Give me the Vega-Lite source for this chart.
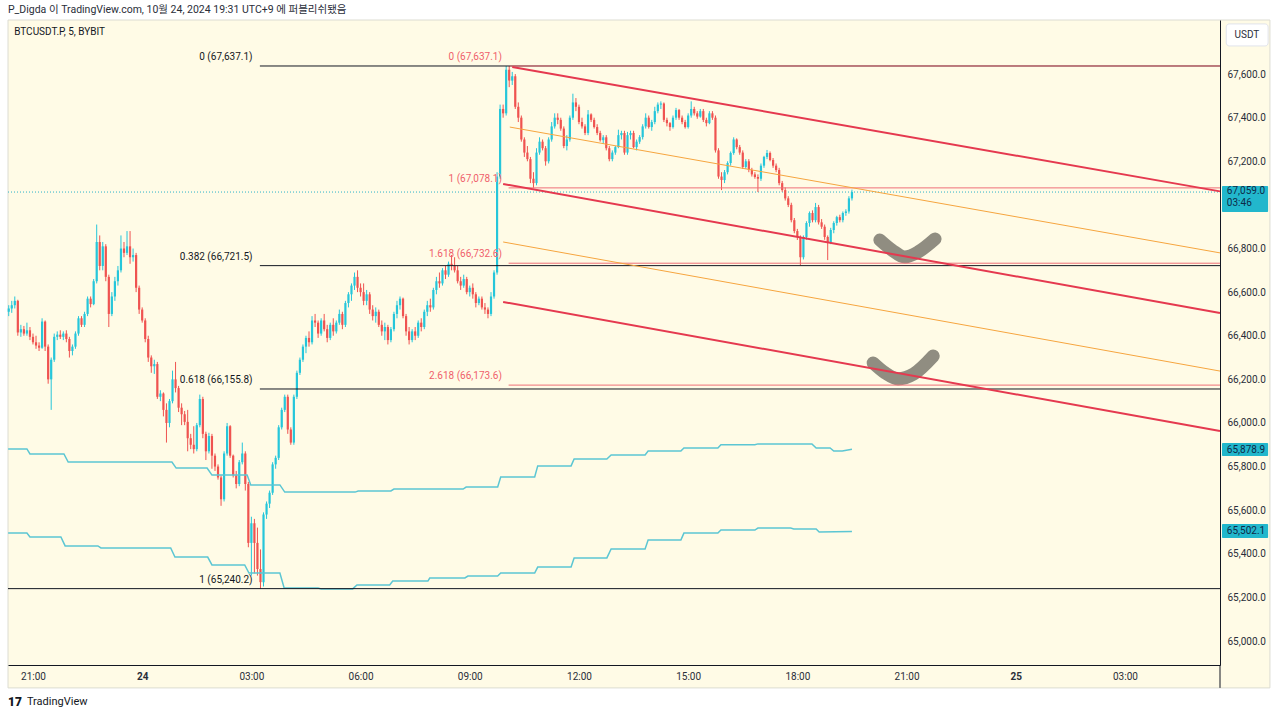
{
"$schema":"https://vega.github.io/schema/vega-lite/v6.json",
"width":1212,"height":645,
"autosize":{"type":"none"},
"padding":{"left":8,"top":20,"right":60,"bottom":51},
"background":"#ffffff",
"config":{"view":{"stroke":null},"font":"Roboto","text":{"font":"Roboto","fontSize":10}},
"title":{"text":"P_Digda 이 TradingView.com, 10월 24, 2024 19:31 UTC+9 에 퍼블리쉬됐음","anchor":"start","frame":"group","font":"Roboto, Noto Sans CJK KR","fontSize":10.5,"fontWeight":"normal","color":"#2a2e39","offset":4},
"datasets":{
"frame":[{"t1":"2024-10-23T20:18:48","t2":"2024-10-25T06:59","p1":64785,"p2":67848}],
"candles":[
{"t":"2024-10-23T20:20","o":66510,"h":66540,"l":66490,"c":66525},
{"t":"2024-10-23T20:25","o":66525,"h":66560,"l":66505,"c":66540},
{"t":"2024-10-23T20:30","o":66540,"h":66580,"l":66525,"c":66560},
{"t":"2024-10-23T20:35","o":66560,"h":66565,"l":66400,"c":66415},
{"t":"2024-10-23T20:40","o":66415,"h":66450,"l":66395,"c":66430},
{"t":"2024-10-23T20:45","o":66430,"h":66445,"l":66400,"c":66410},
{"t":"2024-10-23T20:50","o":66410,"h":66460,"l":66400,"c":66425},
{"t":"2024-10-23T20:55","o":66425,"h":66440,"l":66380,"c":66395},
{"t":"2024-10-23T21:00","o":66395,"h":66410,"l":66360,"c":66370},
{"t":"2024-10-23T21:05","o":66370,"h":66400,"l":66340,"c":66355},
{"t":"2024-10-23T21:10","o":66355,"h":66370,"l":66330,"c":66345},
{"t":"2024-10-23T21:15","o":66345,"h":66480,"l":66340,"c":66465},
{"t":"2024-10-23T21:20","o":66465,"h":66470,"l":66330,"c":66350},
{"t":"2024-10-23T21:25","o":66350,"h":66360,"l":66180,"c":66200},
{"t":"2024-10-23T21:30","o":66200,"h":66300,"l":66060,"c":66290},
{"t":"2024-10-23T21:35","o":66290,"h":66410,"l":66280,"c":66395},
{"t":"2024-10-23T21:40","o":66395,"h":66420,"l":66380,"c":66405},
{"t":"2024-10-23T21:45","o":66405,"h":66425,"l":66385,"c":66395},
{"t":"2024-10-23T21:50","o":66395,"h":66420,"l":66380,"c":66410},
{"t":"2024-10-23T21:55","o":66410,"h":66425,"l":66370,"c":66385},
{"t":"2024-10-23T22:00","o":66385,"h":66395,"l":66300,"c":66330},
{"t":"2024-10-23T22:05","o":66330,"h":66360,"l":66310,"c":66350},
{"t":"2024-10-23T22:10","o":66350,"h":66420,"l":66340,"c":66410},
{"t":"2024-10-23T22:15","o":66410,"h":66490,"l":66400,"c":66480},
{"t":"2024-10-23T22:20","o":66480,"h":66490,"l":66440,"c":66450},
{"t":"2024-10-23T22:25","o":66450,"h":66510,"l":66440,"c":66500},
{"t":"2024-10-23T22:30","o":66500,"h":66580,"l":66490,"c":66570},
{"t":"2024-10-23T22:35","o":66570,"h":66580,"l":66530,"c":66545},
{"t":"2024-10-23T22:40","o":66545,"h":66660,"l":66540,"c":66650},
{"t":"2024-10-23T22:45","o":66650,"h":66910,"l":66640,"c":66830},
{"t":"2024-10-23T22:50","o":66830,"h":66860,"l":66700,"c":66720},
{"t":"2024-10-23T22:55","o":66720,"h":66830,"l":66700,"c":66810},
{"t":"2024-10-23T23:00","o":66810,"h":66820,"l":66650,"c":66670},
{"t":"2024-10-23T23:05","o":66670,"h":66680,"l":66440,"c":66500},
{"t":"2024-10-23T23:10","o":66500,"h":66600,"l":66490,"c":66580},
{"t":"2024-10-23T23:15","o":66580,"h":66670,"l":66560,"c":66650},
{"t":"2024-10-23T23:20","o":66650,"h":66720,"l":66630,"c":66700},
{"t":"2024-10-23T23:25","o":66700,"h":66860,"l":66690,"c":66800},
{"t":"2024-10-23T23:30","o":66800,"h":66830,"l":66760,"c":66780},
{"t":"2024-10-23T23:35","o":66780,"h":66880,"l":66770,"c":66810},
{"t":"2024-10-23T23:40","o":66810,"h":66880,"l":66730,"c":66760},
{"t":"2024-10-23T23:45","o":66760,"h":66800,"l":66740,"c":66770},
{"t":"2024-10-23T23:50","o":66770,"h":66780,"l":66600,"c":66620},
{"t":"2024-10-23T23:55","o":66620,"h":66630,"l":66500,"c":66520},
{"t":"2024-10-24T00:00","o":66520,"h":66530,"l":66460,"c":66470},
{"t":"2024-10-24T00:05","o":66470,"h":66480,"l":66370,"c":66385},
{"t":"2024-10-24T00:10","o":66385,"h":66400,"l":66280,"c":66300},
{"t":"2024-10-24T00:15","o":66300,"h":66310,"l":66230,"c":66260},
{"t":"2024-10-24T00:20","o":66260,"h":66290,"l":66225,"c":66270},
{"t":"2024-10-24T00:25","o":66270,"h":66280,"l":66110,"c":66120},
{"t":"2024-10-24T00:30","o":66120,"h":66150,"l":66100,"c":66135},
{"t":"2024-10-24T00:35","o":66135,"h":66140,"l":66030,"c":66060},
{"t":"2024-10-24T00:40","o":66060,"h":66090,"l":65910,"c":66000},
{"t":"2024-10-24T00:45","o":66000,"h":66110,"l":65980,"c":66100},
{"t":"2024-10-24T00:50","o":66100,"h":66240,"l":66090,"c":66200},
{"t":"2024-10-24T00:55","o":66200,"h":66280,"l":66140,"c":66160},
{"t":"2024-10-24T01:00","o":66160,"h":66170,"l":66050,"c":66070},
{"t":"2024-10-24T01:05","o":66070,"h":66090,"l":65990,"c":66040},
{"t":"2024-10-24T01:10","o":66040,"h":66055,"l":65990,"c":66005},
{"t":"2024-10-24T01:15","o":66005,"h":66060,"l":65870,"c":65930},
{"t":"2024-10-24T01:20","o":65930,"h":65950,"l":65880,"c":65900},
{"t":"2024-10-24T01:25","o":65900,"h":65985,"l":65860,"c":65880},
{"t":"2024-10-24T01:30","o":65880,"h":66000,"l":65870,"c":65990},
{"t":"2024-10-24T01:35","o":65990,"h":66130,"l":65980,"c":66110},
{"t":"2024-10-24T01:40","o":66110,"h":66120,"l":65930,"c":65950},
{"t":"2024-10-24T01:45","o":65950,"h":65960,"l":65830,"c":65870},
{"t":"2024-10-24T01:50","o":65870,"h":65955,"l":65860,"c":65940},
{"t":"2024-10-24T01:55","o":65940,"h":65950,"l":65790,"c":65850},
{"t":"2024-10-24T02:00","o":65850,"h":65860,"l":65780,"c":65800},
{"t":"2024-10-24T02:05","o":65800,"h":65810,"l":65740,"c":65750},
{"t":"2024-10-24T02:10","o":65750,"h":65760,"l":65620,"c":65650},
{"t":"2024-10-24T02:15","o":65650,"h":65870,"l":65640,"c":65860},
{"t":"2024-10-24T02:20","o":65860,"h":66000,"l":65850,"c":65985},
{"t":"2024-10-24T02:25","o":65985,"h":65990,"l":65840,"c":65850},
{"t":"2024-10-24T02:30","o":65850,"h":65855,"l":65750,"c":65760},
{"t":"2024-10-24T02:35","o":65760,"h":65780,"l":65700,"c":65720},
{"t":"2024-10-24T02:40","o":65720,"h":65830,"l":65710,"c":65820},
{"t":"2024-10-24T02:45","o":65820,"h":65910,"l":65810,"c":65860},
{"t":"2024-10-24T02:50","o":65860,"h":65870,"l":65690,"c":65720},
{"t":"2024-10-24T02:55","o":65720,"h":65730,"l":65430,"c":65450},
{"t":"2024-10-24T03:00","o":65450,"h":65570,"l":65300,"c":65540},
{"t":"2024-10-24T03:05","o":65540,"h":65560,"l":65310,"c":65450},
{"t":"2024-10-24T03:10","o":65450,"h":65520,"l":65300,"c":65330},
{"t":"2024-10-24T03:15","o":65330,"h":65420,"l":65240.2,"c":65270},
{"t":"2024-10-24T03:20","o":65270,"h":65590,"l":65250,"c":65580},
{"t":"2024-10-24T03:25","o":65580,"h":65640,"l":65560,"c":65630},
{"t":"2024-10-24T03:30","o":65630,"h":65690,"l":65610,"c":65680},
{"t":"2024-10-24T03:35","o":65680,"h":65820,"l":65670,"c":65810},
{"t":"2024-10-24T03:40","o":65810,"h":65850,"l":65790,"c":65840},
{"t":"2024-10-24T03:45","o":65840,"h":65990,"l":65830,"c":65980},
{"t":"2024-10-24T03:50","o":65980,"h":66070,"l":65970,"c":66060},
{"t":"2024-10-24T03:55","o":66060,"h":66130,"l":66050,"c":66120},
{"t":"2024-10-24T04:00","o":66120,"h":66130,"l":65950,"c":65970},
{"t":"2024-10-24T04:05","o":65970,"h":65980,"l":65900,"c":65910},
{"t":"2024-10-24T04:10","o":65910,"h":66130,"l":65900,"c":66120},
{"t":"2024-10-24T04:15","o":66120,"h":66240,"l":66110,"c":66230},
{"t":"2024-10-24T04:20","o":66230,"h":66300,"l":66220,"c":66290},
{"t":"2024-10-24T04:25","o":66290,"h":66360,"l":66280,"c":66350},
{"t":"2024-10-24T04:30","o":66350,"h":66400,"l":66320,"c":66390},
{"t":"2024-10-24T04:35","o":66390,"h":66420,"l":66350,"c":66370},
{"t":"2024-10-24T04:40","o":66370,"h":66490,"l":66360,"c":66470},
{"t":"2024-10-24T04:45","o":66470,"h":66500,"l":66440,"c":66460},
{"t":"2024-10-24T04:50","o":66460,"h":66470,"l":66390,"c":66410},
{"t":"2024-10-24T04:55","o":66410,"h":66480,"l":66400,"c":66470},
{"t":"2024-10-24T05:00","o":66470,"h":66500,"l":66420,"c":66430},
{"t":"2024-10-24T05:05","o":66430,"h":66450,"l":66370,"c":66390},
{"t":"2024-10-24T05:10","o":66390,"h":66460,"l":66380,"c":66450},
{"t":"2024-10-24T05:15","o":66450,"h":66480,"l":66400,"c":66420},
{"t":"2024-10-24T05:20","o":66420,"h":66470,"l":66410,"c":66460},
{"t":"2024-10-24T05:25","o":66460,"h":66520,"l":66450,"c":66500},
{"t":"2024-10-24T05:30","o":66500,"h":66510,"l":66430,"c":66450},
{"t":"2024-10-24T05:35","o":66450,"h":66560,"l":66440,"c":66550},
{"t":"2024-10-24T05:40","o":66550,"h":66600,"l":66530,"c":66590},
{"t":"2024-10-24T05:45","o":66590,"h":66640,"l":66560,"c":66630},
{"t":"2024-10-24T05:50","o":66630,"h":66690,"l":66610,"c":66670},
{"t":"2024-10-24T05:55","o":66670,"h":66700,"l":66600,"c":66620},
{"t":"2024-10-24T06:00","o":66620,"h":66640,"l":66580,"c":66600},
{"t":"2024-10-24T06:05","o":66600,"h":66640,"l":66540,"c":66560},
{"t":"2024-10-24T06:10","o":66560,"h":66610,"l":66540,"c":66590},
{"t":"2024-10-24T06:15","o":66590,"h":66600,"l":66500,"c":66520},
{"t":"2024-10-24T06:20","o":66520,"h":66540,"l":66470,"c":66490},
{"t":"2024-10-24T06:25","o":66490,"h":66530,"l":66460,"c":66510},
{"t":"2024-10-24T06:30","o":66510,"h":66520,"l":66440,"c":66450},
{"t":"2024-10-24T06:35","o":66450,"h":66470,"l":66400,"c":66420},
{"t":"2024-10-24T06:40","o":66420,"h":66460,"l":66380,"c":66440},
{"t":"2024-10-24T06:45","o":66440,"h":66450,"l":66360,"c":66380},
{"t":"2024-10-24T06:50","o":66380,"h":66440,"l":66370,"c":66430},
{"t":"2024-10-24T06:55","o":66430,"h":66510,"l":66420,"c":66500},
{"t":"2024-10-24T07:00","o":66500,"h":66560,"l":66480,"c":66540},
{"t":"2024-10-24T07:05","o":66540,"h":66580,"l":66520,"c":66570},
{"t":"2024-10-24T07:10","o":66570,"h":66575,"l":66480,"c":66490},
{"t":"2024-10-24T07:15","o":66490,"h":66500,"l":66400,"c":66420},
{"t":"2024-10-24T07:20","o":66420,"h":66440,"l":66360,"c":66380},
{"t":"2024-10-24T07:25","o":66380,"h":66430,"l":66370,"c":66420},
{"t":"2024-10-24T07:30","o":66420,"h":66440,"l":66380,"c":66400},
{"t":"2024-10-24T07:35","o":66400,"h":66470,"l":66390,"c":66460},
{"t":"2024-10-24T07:40","o":66460,"h":66480,"l":66420,"c":66440},
{"t":"2024-10-24T07:45","o":66440,"h":66520,"l":66430,"c":66510},
{"t":"2024-10-24T07:50","o":66510,"h":66560,"l":66490,"c":66540},
{"t":"2024-10-24T07:55","o":66540,"h":66570,"l":66510,"c":66530},
{"t":"2024-10-24T08:00","o":66530,"h":66620,"l":66520,"c":66610},
{"t":"2024-10-24T08:05","o":66610,"h":66670,"l":66590,"c":66650},
{"t":"2024-10-24T08:10","o":66650,"h":66690,"l":66620,"c":66640},
{"t":"2024-10-24T08:15","o":66640,"h":66710,"l":66630,"c":66700},
{"t":"2024-10-24T08:20","o":66700,"h":66720,"l":66660,"c":66680},
{"t":"2024-10-24T08:25","o":66680,"h":66740,"l":66670,"c":66730},
{"t":"2024-10-24T08:30","o":66730,"h":66770,"l":66700,"c":66720},
{"t":"2024-10-24T08:35","o":66720,"h":66760,"l":66690,"c":66700},
{"t":"2024-10-24T08:40","o":66700,"h":66720,"l":66640,"c":66650},
{"t":"2024-10-24T08:45","o":66650,"h":66670,"l":66610,"c":66630},
{"t":"2024-10-24T08:50","o":66630,"h":66680,"l":66620,"c":66660},
{"t":"2024-10-24T08:55","o":66660,"h":66670,"l":66590,"c":66600},
{"t":"2024-10-24T09:00","o":66600,"h":66630,"l":66580,"c":66620},
{"t":"2024-10-24T09:05","o":66620,"h":66640,"l":66570,"c":66590},
{"t":"2024-10-24T09:10","o":66590,"h":66600,"l":66530,"c":66550},
{"t":"2024-10-24T09:15","o":66550,"h":66580,"l":66540,"c":66570},
{"t":"2024-10-24T09:20","o":66570,"h":66580,"l":66520,"c":66530},
{"t":"2024-10-24T09:25","o":66530,"h":66550,"l":66500,"c":66520},
{"t":"2024-10-24T09:30","o":66520,"h":66530,"l":66480,"c":66500},
{"t":"2024-10-24T09:35","o":66500,"h":66600,"l":66490,"c":66580},
{"t":"2024-10-24T09:40","o":66580,"h":66700,"l":66570,"c":66690},
{"t":"2024-10-24T09:45","o":66690,"h":67150,"l":66680,"c":67130},
{"t":"2024-10-24T09:50","o":67130,"h":67460,"l":67120,"c":67440},
{"t":"2024-10-24T09:55","o":67440,"h":67460,"l":67400,"c":67420},
{"t":"2024-10-24T10:00","o":67420,"h":67637.1,"l":67410,"c":67620},
{"t":"2024-10-24T10:05","o":67620,"h":67637,"l":67540,"c":67570},
{"t":"2024-10-24T10:10","o":67570,"h":67610,"l":67550,"c":67590},
{"t":"2024-10-24T10:15","o":67590,"h":67600,"l":67440,"c":67450},
{"t":"2024-10-24T10:20","o":67450,"h":67470,"l":67380,"c":67400},
{"t":"2024-10-24T10:25","o":67400,"h":67410,"l":67290,"c":67300},
{"t":"2024-10-24T10:30","o":67300,"h":67310,"l":67220,"c":67240},
{"t":"2024-10-24T10:35","o":67240,"h":67270,"l":67200,"c":67210},
{"t":"2024-10-24T10:40","o":67210,"h":67220,"l":67100,"c":67120},
{"t":"2024-10-24T10:45","o":67120,"h":67150,"l":67078.1,"c":67100},
{"t":"2024-10-24T10:50","o":67100,"h":67260,"l":67090,"c":67240},
{"t":"2024-10-24T10:55","o":67240,"h":67310,"l":67230,"c":67290},
{"t":"2024-10-24T11:00","o":67290,"h":67300,"l":67250,"c":67260},
{"t":"2024-10-24T11:05","o":67260,"h":67270,"l":67180,"c":67200},
{"t":"2024-10-24T11:10","o":67200,"h":67310,"l":67190,"c":67300},
{"t":"2024-10-24T11:15","o":67300,"h":67380,"l":67290,"c":67360},
{"t":"2024-10-24T11:20","o":67360,"h":67420,"l":67350,"c":67400},
{"t":"2024-10-24T11:25","o":67400,"h":67420,"l":67370,"c":67390},
{"t":"2024-10-24T11:30","o":67390,"h":67400,"l":67340,"c":67350},
{"t":"2024-10-24T11:35","o":67350,"h":67360,"l":67260,"c":67270},
{"t":"2024-10-24T11:40","o":67270,"h":67320,"l":67250,"c":67300},
{"t":"2024-10-24T11:45","o":67300,"h":67410,"l":67290,"c":67400},
{"t":"2024-10-24T11:50","o":67400,"h":67510,"l":67390,"c":67470},
{"t":"2024-10-24T11:55","o":67470,"h":67490,"l":67430,"c":67450},
{"t":"2024-10-24T12:00","o":67450,"h":67460,"l":67370,"c":67380},
{"t":"2024-10-24T12:05","o":67380,"h":67400,"l":67350,"c":67360},
{"t":"2024-10-24T12:10","o":67360,"h":67370,"l":67320,"c":67330},
{"t":"2024-10-24T12:15","o":67330,"h":67435,"l":67320,"c":67415},
{"t":"2024-10-24T12:20","o":67415,"h":67420,"l":67380,"c":67390},
{"t":"2024-10-24T12:25","o":67390,"h":67400,"l":67350,"c":67357},
{"t":"2024-10-24T12:30","o":67357,"h":67370,"l":67320,"c":67330},
{"t":"2024-10-24T12:35","o":67330,"h":67340,"l":67290,"c":67297},
{"t":"2024-10-24T12:40","o":67297,"h":67320,"l":67280,"c":67310},
{"t":"2024-10-24T12:45","o":67310,"h":67320,"l":67250,"c":67260},
{"t":"2024-10-24T12:50","o":67260,"h":67270,"l":67200,"c":67210},
{"t":"2024-10-24T12:55","o":67210,"h":67250,"l":67200,"c":67240},
{"t":"2024-10-24T13:00","o":67240,"h":67270,"l":67230,"c":67265},
{"t":"2024-10-24T13:05","o":67265,"h":67345,"l":67260,"c":67320},
{"t":"2024-10-24T13:10","o":67320,"h":67340,"l":67300,"c":67330},
{"t":"2024-10-24T13:15","o":67330,"h":67340,"l":67230,"c":67240},
{"t":"2024-10-24T13:20","o":67240,"h":67335,"l":67230,"c":67320},
{"t":"2024-10-24T13:25","o":67320,"h":67340,"l":67300,"c":67330},
{"t":"2024-10-24T13:30","o":67330,"h":67340,"l":67260,"c":67265},
{"t":"2024-10-24T13:35","o":67265,"h":67300,"l":67250,"c":67290},
{"t":"2024-10-24T13:40","o":67290,"h":67320,"l":67280,"c":67311},
{"t":"2024-10-24T13:45","o":67311,"h":67370,"l":67300,"c":67360},
{"t":"2024-10-24T13:50","o":67360,"h":67420,"l":67350,"c":67400},
{"t":"2024-10-24T13:55","o":67400,"h":67410,"l":67350,"c":67357},
{"t":"2024-10-24T14:00","o":67357,"h":67390,"l":67340,"c":67380},
{"t":"2024-10-24T14:05","o":67380,"h":67450,"l":67370,"c":67430},
{"t":"2024-10-24T14:10","o":67430,"h":67470,"l":67420,"c":67460},
{"t":"2024-10-24T14:15","o":67460,"h":67475,"l":67440,"c":67465},
{"t":"2024-10-24T14:20","o":67465,"h":67470,"l":67380,"c":67390},
{"t":"2024-10-24T14:25","o":67390,"h":67400,"l":67360,"c":67375},
{"t":"2024-10-24T14:30","o":67375,"h":67380,"l":67340,"c":67357},
{"t":"2024-10-24T14:35","o":67357,"h":67410,"l":67350,"c":67400},
{"t":"2024-10-24T14:40","o":67400,"h":67445,"l":67390,"c":67435},
{"t":"2024-10-24T14:45","o":67435,"h":67440,"l":67390,"c":67400},
{"t":"2024-10-24T14:50","o":67400,"h":67410,"l":67370,"c":67380},
{"t":"2024-10-24T14:55","o":67380,"h":67390,"l":67350,"c":67357},
{"t":"2024-10-24T15:00","o":67357,"h":67420,"l":67350,"c":67410},
{"t":"2024-10-24T15:05","o":67410,"h":67475,"l":67400,"c":67440},
{"t":"2024-10-24T15:10","o":67440,"h":67450,"l":67410,"c":67420},
{"t":"2024-10-24T15:15","o":67420,"h":67430,"l":67395,"c":67405},
{"t":"2024-10-24T15:20","o":67405,"h":67440,"l":67400,"c":67430},
{"t":"2024-10-24T15:25","o":67430,"h":67440,"l":67380,"c":67390},
{"t":"2024-10-24T15:30","o":67390,"h":67400,"l":67360,"c":67375},
{"t":"2024-10-24T15:35","o":67375,"h":67430,"l":67370,"c":67420},
{"t":"2024-10-24T15:40","o":67420,"h":67430,"l":67390,"c":67400},
{"t":"2024-10-24T15:45","o":67400,"h":67410,"l":67240,"c":67250},
{"t":"2024-10-24T15:50","o":67250,"h":67260,"l":67120,"c":67130},
{"t":"2024-10-24T15:55","o":67130,"h":67150,"l":67068,"c":67114},
{"t":"2024-10-24T16:00","o":67114,"h":67160,"l":67100,"c":67150},
{"t":"2024-10-24T16:05","o":67150,"h":67200,"l":67140,"c":67192},
{"t":"2024-10-24T16:10","o":67192,"h":67245,"l":67180,"c":67238},
{"t":"2024-10-24T16:15","o":67238,"h":67310,"l":67230,"c":67300},
{"t":"2024-10-24T16:20","o":67300,"h":67305,"l":67255,"c":67265},
{"t":"2024-10-24T16:25","o":67265,"h":67275,"l":67230,"c":67240},
{"t":"2024-10-24T16:30","o":67240,"h":67250,"l":67165,"c":67174},
{"t":"2024-10-24T16:35","o":67174,"h":67210,"l":67165,"c":67200},
{"t":"2024-10-24T16:40","o":67200,"h":67210,"l":67150,"c":67160},
{"t":"2024-10-24T16:45","o":67160,"h":67170,"l":67130,"c":67140},
{"t":"2024-10-24T16:50","o":67140,"h":67150,"l":67120,"c":67128},
{"t":"2024-10-24T16:55","o":67128,"h":67140,"l":67059,"c":67120},
{"t":"2024-10-24T17:00","o":67120,"h":67190,"l":67110,"c":67180},
{"t":"2024-10-24T17:05","o":67180,"h":67225,"l":67170,"c":67220},
{"t":"2024-10-24T17:10","o":67220,"h":67252,"l":67210,"c":67238},
{"t":"2024-10-24T17:15","o":67238,"h":67245,"l":67200,"c":67206},
{"t":"2024-10-24T17:20","o":67206,"h":67215,"l":67170,"c":67180},
{"t":"2024-10-24T17:25","o":67180,"h":67190,"l":67150,"c":67160},
{"t":"2024-10-24T17:30","o":67160,"h":67170,"l":67090,"c":67100},
{"t":"2024-10-24T17:35","o":67100,"h":67110,"l":67060,"c":67068},
{"t":"2024-10-24T17:40","o":67068,"h":67080,"l":67020,"c":67030},
{"t":"2024-10-24T17:45","o":67030,"h":67040,"l":66990,"c":67000},
{"t":"2024-10-24T17:50","o":67000,"h":67010,"l":66920,"c":66930},
{"t":"2024-10-24T17:55","o":66930,"h":66940,"l":66870,"c":66880},
{"t":"2024-10-24T18:00","o":66880,"h":66890,"l":66839,"c":66853},
{"t":"2024-10-24T18:05","o":66853,"h":66860,"l":66724,"c":66760},
{"t":"2024-10-24T18:10","o":66760,"h":66860,"l":66750,"c":66853},
{"t":"2024-10-24T18:15","o":66853,"h":66925,"l":66840,"c":66917},
{"t":"2024-10-24T18:20","o":66917,"h":66970,"l":66900,"c":66963},
{"t":"2024-10-24T18:25","o":66963,"h":66975,"l":66920,"c":66930},
{"t":"2024-10-24T18:30","o":66930,"h":67009,"l":66920,"c":66990},
{"t":"2024-10-24T18:35","o":66990,"h":67000,"l":66910,"c":66920},
{"t":"2024-10-24T18:40","o":66920,"h":66935,"l":66890,"c":66900},
{"t":"2024-10-24T18:45","o":66900,"h":66910,"l":66840,"c":66853},
{"t":"2024-10-24T18:50","o":66853,"h":66860,"l":66747,"c":66830},
{"t":"2024-10-24T18:55","o":66830,"h":66895,"l":66820,"c":66885},
{"t":"2024-10-24T19:00","o":66885,"h":66925,"l":66870,"c":66917},
{"t":"2024-10-24T19:05","o":66917,"h":66950,"l":66905,"c":66944},
{"t":"2024-10-24T19:10","o":66944,"h":66955,"l":66920,"c":66930},
{"t":"2024-10-24T19:15","o":66930,"h":66970,"l":66920,"c":66963},
{"t":"2024-10-24T19:20","o":66963,"h":66980,"l":66950,"c":66970},
{"t":"2024-10-24T19:25","o":66970,"h":67040,"l":66960,"c":67030},
{"t":"2024-10-24T19:30","o":67030,"h":67070,"l":67020,"c":67059}
],
"steps":[
{"g":"u","t":"2024-10-23T20:19","p":65881},{"g":"u","t":"2024-10-23T20:50","p":65881},{"g":"u","t":"2024-10-23T20:55","p":65858},{"g":"u","t":"2024-10-23T21:51","p":65858},{"g":"u","t":"2024-10-23T21:58","p":65821},{"g":"u","t":"2024-10-24T00:49","p":65821},{"g":"u","t":"2024-10-24T00:56","p":65793},{"g":"u","t":"2024-10-24T01:47","p":65793},{"g":"u","t":"2024-10-24T01:55","p":65761},{"g":"u","t":"2024-10-24T02:53","p":65761},{"g":"u","t":"2024-10-24T02:59","p":65716},{"g":"u","t":"2024-10-24T03:47","p":65716},{"g":"u","t":"2024-10-24T03:55","p":65683},{"g":"u","t":"2024-10-24T05:51","p":65683},{"g":"u","t":"2024-10-24T05:56","p":65688},{"g":"u","t":"2024-10-24T06:50","p":65688},{"g":"u","t":"2024-10-24T06:55","p":65697},{"g":"u","t":"2024-10-24T08:49","p":65697},{"g":"u","t":"2024-10-24T08:54","p":65706},{"g":"u","t":"2024-10-24T09:46","p":65706},{"g":"u","t":"2024-10-24T09:51","p":65752},{"g":"u","t":"2024-10-24T10:47","p":65752},{"g":"u","t":"2024-10-24T10:52","p":65803},{"g":"u","t":"2024-10-24T11:47","p":65803},{"g":"u","t":"2024-10-24T11:52","p":65835},{"g":"u","t":"2024-10-24T12:46","p":65835},{"g":"u","t":"2024-10-24T12:53","p":65853},{"g":"u","t":"2024-10-24T13:49","p":65853},{"g":"u","t":"2024-10-24T13:54","p":65871},{"g":"u","t":"2024-10-24T14:48","p":65871},{"g":"u","t":"2024-10-24T14:53","p":65885},{"g":"u","t":"2024-10-24T15:49","p":65885},{"g":"u","t":"2024-10-24T15:54","p":65900},{"g":"u","t":"2024-10-24T16:50","p":65900},{"g":"u","t":"2024-10-24T16:55","p":65904},{"g":"u","t":"2024-10-24T18:24","p":65904},{"g":"u","t":"2024-10-24T18:31","p":65885},{"g":"u","t":"2024-10-24T18:54","p":65885},{"g":"u","t":"2024-10-24T19:00","p":65871},{"g":"u","t":"2024-10-24T19:14","p":65871},{"g":"u","t":"2024-10-24T19:30","p":65879},
{"g":"l","t":"2024-10-23T20:19","p":65495},{"g":"l","t":"2024-10-23T20:50","p":65495},{"g":"l","t":"2024-10-23T20:55","p":65477},{"g":"l","t":"2024-10-23T21:46","p":65477},{"g":"l","t":"2024-10-23T21:53","p":65436},{"g":"l","t":"2024-10-23T22:47","p":65436},{"g":"l","t":"2024-10-23T22:52","p":65427},{"g":"l","t":"2024-10-24T00:47","p":65427},{"g":"l","t":"2024-10-24T00:54","p":65385},{"g":"l","t":"2024-10-24T01:48","p":65385},{"g":"l","t":"2024-10-24T01:55","p":65349},{"g":"l","t":"2024-10-24T02:49","p":65349},{"g":"l","t":"2024-10-24T02:56","p":65312},{"g":"l","t":"2024-10-24T03:47","p":65312},{"g":"l","t":"2024-10-24T03:54","p":65243},{"g":"l","t":"2024-10-24T04:50","p":65243},{"g":"l","t":"2024-10-24T04:55","p":65239},{"g":"l","t":"2024-10-24T05:47","p":65239},{"g":"l","t":"2024-10-24T05:54","p":65257},{"g":"l","t":"2024-10-24T06:48","p":65257},{"g":"l","t":"2024-10-24T06:53","p":65275},{"g":"l","t":"2024-10-24T07:51","p":65275},{"g":"l","t":"2024-10-24T07:54","p":65289},{"g":"l","t":"2024-10-24T08:52","p":65289},{"g":"l","t":"2024-10-24T08:57","p":65298},{"g":"l","t":"2024-10-24T09:46","p":65298},{"g":"l","t":"2024-10-24T09:51","p":65312},{"g":"l","t":"2024-10-24T10:47","p":65312},{"g":"l","t":"2024-10-24T10:52","p":65339},{"g":"l","t":"2024-10-24T11:47","p":65339},{"g":"l","t":"2024-10-24T11:52","p":65381},{"g":"l","t":"2024-10-24T12:46","p":65381},{"g":"l","t":"2024-10-24T12:53","p":65422},{"g":"l","t":"2024-10-24T13:49","p":65422},{"g":"l","t":"2024-10-24T13:54","p":65463},{"g":"l","t":"2024-10-24T14:48","p":65463},{"g":"l","t":"2024-10-24T14:53","p":65495},{"g":"l","t":"2024-10-24T15:49","p":65495},{"g":"l","t":"2024-10-24T15:54","p":65509},{"g":"l","t":"2024-10-24T16:50","p":65509},{"g":"l","t":"2024-10-24T16:55","p":65518},{"g":"l","t":"2024-10-24T17:49","p":65518},{"g":"l","t":"2024-10-24T17:54","p":65514},{"g":"l","t":"2024-10-24T18:31","p":65514},{"g":"l","t":"2024-10-24T18:36","p":65500},{"g":"l","t":"2024-10-24T19:30","p":65502}
],
"checks":[
{"g":"a","t":"2024-10-24T20:16","p":66839},{"g":"a","t":"2024-10-24T20:36","p":66793},{"g":"a","t":"2024-10-24T20:57","p":66761},{"g":"a","t":"2024-10-24T21:19","p":66784},{"g":"a","t":"2024-10-24T21:47","p":66844},
{"g":"b","t":"2024-10-24T20:05","p":66275},{"g":"b","t":"2024-10-24T20:25","p":66229},{"g":"b","t":"2024-10-24T20:46","p":66202},{"g":"b","t":"2024-10-24T21:12","p":66225},{"g":"b","t":"2024-10-24T21:44","p":66307}
],
"cur":[{"t1":"2024-10-23T20:18:48","t2":"2024-10-25T05:36:42","p1":67059,"p2":67059}],
"fibBlack":[
{"t1":"2024-10-24T03:14","t2":"2024-10-25T05:36:42","p1":67637.1,"p2":67637.1},
{"t1":"2024-10-24T03:14","t2":"2024-10-25T05:36:42","p1":66721.5,"p2":66721.5},
{"t1":"2024-10-24T03:14","t2":"2024-10-25T05:36:42","p1":66155.8,"p2":66155.8},
{"t1":"2024-10-23T20:18:48","t2":"2024-10-25T05:36:42","p1":65240.2,"p2":65240.2},
{"t1":"2024-10-25T05:36:42","t2":"2024-10-25T05:36:42","p1":64785,"p2":64890}
],
"fibRed":[
{"t1":"2024-10-24T10:06","t2":"2024-10-25T05:36:42","p1":67637.1,"p2":67637.1},
{"t1":"2024-10-24T10:04","t2":"2024-10-25T05:36:42","p1":67078.1,"p2":67078.1},
{"t1":"2024-10-24T10:04","t2":"2024-10-25T05:36:42","p1":66732.6,"p2":66732.6},
{"t1":"2024-10-24T10:04","t2":"2024-10-25T05:36:42","p1":66173.6,"p2":66173.6}
],
"chanRed":[
{"t1":"2024-10-24T10:10","t2":"2024-10-25T05:36:42","p1":67632,"p2":67062},
{"t1":"2024-10-24T09:55","t2":"2024-10-25T05:36:42","p1":67096,"p2":66504},
{"t1":"2024-10-24T09:55","t2":"2024-10-25T05:36:42","p1":66555,"p2":65963}
],
"chanOrange":[
{"t1":"2024-10-24T10:06","t2":"2024-10-25T05:36:42","p1":67357,"p2":66780},
{"t1":"2024-10-24T09:55","t2":"2024-10-25T05:36:42","p1":66830,"p2":66238}
],
"labBlack":[
{"t":"2024-10-24T03:02","p":67637.1,"s":"0 (67,637.1)"},
{"t":"2024-10-24T03:02","p":66721.5,"s":"0.382 (66,721.5)"},
{"t":"2024-10-24T03:02","p":66155.8,"s":"0.618 (66,155.8)"},
{"t":"2024-10-24T03:02","p":65240.2,"s":"1 (65,240.2)"}
],
"labRed":[
{"t":"2024-10-24T09:53","p":67637.1,"s":"0 (67,637.1)"},
{"t":"2024-10-24T09:53","p":67078.1,"s":"1 (67,078.1)"},
{"t":"2024-10-24T09:53","p":66732.6,"s":"1.618 (66,732.6)"},
{"t":"2024-10-24T09:53","p":66173.6,"s":"2.618 (66,173.6)"}
],
"tags":[
{"t1":"2024-10-25T05:40","t2":"2024-10-25T06:56","p1":66967,"p2":67087},
{"t1":"2024-10-25T05:40","t2":"2024-10-25T06:56","p1":65848,"p2":65908},
{"t1":"2024-10-25T05:40","t2":"2024-10-25T06:56","p1":65472,"p2":65537}
],
"tagText":[
{"t":"2024-10-25T05:48","p":67063,"s":"67,059.0"},
{"t":"2024-10-25T05:48","p":67010,"s":"03:46"},
{"t":"2024-10-25T05:48","p":65878,"s":"65,878.9"},
{"t":"2024-10-25T05:48","p":65504,"s":"65,502.1"}
],
"usdtBox":[{"t1":"2024-10-25T05:47","t2":"2024-10-25T06:56","p1":67729,"p2":67830}],
"usdtText":[{"t":"2024-10-25T06:21","p":67779,"s":"USDT"}],
"header":[{"t":"2024-10-23T20:29","p":67793,"s":"BTCUSDT.P, 5, BYBIT"}],
"footer":[{"t":"2024-10-23T20:50","p":64720,"s":"TradingView"}],
"logo":[{"t":"2024-10-23T20:19","p":64720,"s":"17"}]
},
"layer":[
{"data":{"name":"frame"},"mark":{"type":"rect","fill":"#fffbe6","stroke":"#dcdcd2","strokeWidth":1},
 "encoding":{
  "x":{"field":"t1","type":"temporal","title":null,"scale":{"domain":[{"year":2024,"month":10,"date":23,"hours":20,"minutes":18,"seconds":48},{"year":2024,"month":10,"date":25,"hours":5,"minutes":36,"seconds":42}],"nice":false,"padding":0},
   "axis":{"orient":"bottom","title":null,"values":[{"year":2024,"month":10,"date":23,"hours":21},{"year":2024,"month":10,"date":24,"hours":0},{"year":2024,"month":10,"date":24,"hours":3},{"year":2024,"month":10,"date":24,"hours":6},{"year":2024,"month":10,"date":24,"hours":9},{"year":2024,"month":10,"date":24,"hours":12},{"year":2024,"month":10,"date":24,"hours":15},{"year":2024,"month":10,"date":24,"hours":18},{"year":2024,"month":10,"date":24,"hours":21},{"year":2024,"month":10,"date":25,"hours":0},{"year":2024,"month":10,"date":25,"hours":3}],"labelExpr":"hours(datum.value)==0 ? timeFormat(datum.value,'%d') : timeFormat(datum.value,'%H:%M')","labelFontWeight":{"condition":{"test":"hours(datum.value)==0","value":"bold"},"value":"normal"},"ticks":false,"grid":false,"domainColor":"#131722","labelColor":"#2a2e39","labelFontSize":10,"labelPadding":6,"labelFlush":false,"labelOverlap":false,"zindex":1}},
  "x2":{"field":"t2"},
  "y":{"field":"p1","type":"quantitative","title":null,"scale":{"domain":[64890,67848],"nice":false,"zero":false},
   "axis":{"orient":"right","title":null,"values":[65000,65200,65400,65600,65800,66000,66200,66400,66600,66800,67200,67400,67600],"format":",.1f","ticks":false,"grid":false,"domainColor":"#131722","labelColor":"#2a2e39","labelFontSize":10,"labelPadding":7,"labelOverlap":false,"zindex":1}},
  "y2":{"field":"p2"}}},
{"data":{"name":"cur"},"mark":{"type":"rule","stroke":"#2bb3c8","strokeWidth":1,"strokeDash":[1,2]},
 "encoding":{"x":{"field":"t1","type":"temporal","title":null},"x2":{"field":"t2"},"y":{"field":"p1","type":"quantitative","title":null},"y2":{"field":"p2"}}},
{"data":{"name":"candles"},"mark":{"type":"rule","strokeWidth":1},
 "encoding":{"x":{"field":"t","type":"temporal","title":null},"y":{"field":"l","type":"quantitative","title":null},"y2":{"field":"h"},
  "color":{"condition":{"test":"datum.c >= datum.o","value":"#26c6da"},"value":"#ef5350"}}},
{"data":{"name":"candles"},"mark":{"type":"bar","width":2.2},
 "encoding":{"x":{"field":"t","type":"temporal","title":null},"y":{"field":"o","type":"quantitative","title":null},"y2":{"field":"c"},
  "color":{"condition":{"test":"datum.c >= datum.o","value":"#26c6da"},"value":"#ef5350"}}},
{"data":{"name":"steps"},"mark":{"type":"line","stroke":"#5cc6d3","strokeWidth":1.5},
 "encoding":{"x":{"field":"t","type":"temporal","title":null},"y":{"field":"p","type":"quantitative","title":null},"detail":{"field":"g"}}},
{"data":{"name":"checks"},"mark":{"type":"line","stroke":"#8a877b","strokeWidth":13,"strokeCap":"round","strokeJoin":"round","interpolate":"monotone","opacity":0.95},
 "encoding":{"x":{"field":"t","type":"temporal","title":null},"y":{"field":"p","type":"quantitative","title":null},"detail":{"field":"g"}}},
{"data":{"name":"fibBlack"},"mark":{"type":"rule","stroke":"#131722","strokeWidth":1},
 "encoding":{"x":{"field":"t1","type":"temporal","title":null},"x2":{"field":"t2"},"y":{"field":"p1","type":"quantitative","title":null},"y2":{"field":"p2"}}},
{"data":{"name":"fibRed"},"mark":{"type":"rule","stroke":"#ef6f78","strokeWidth":1},
 "encoding":{"x":{"field":"t1","type":"temporal","title":null},"x2":{"field":"t2"},"y":{"field":"p1","type":"quantitative","title":null},"y2":{"field":"p2"}}},
{"data":{"name":"chanOrange"},"mark":{"type":"rule","stroke":"#f6a53f","strokeWidth":1},
 "encoding":{"x":{"field":"t1","type":"temporal","title":null},"x2":{"field":"t2"},"y":{"field":"p1","type":"quantitative","title":null},"y2":{"field":"p2"}}},
{"data":{"name":"chanRed"},"mark":{"type":"rule","stroke":"#e5394f","strokeWidth":2},
 "encoding":{"x":{"field":"t1","type":"temporal","title":null},"x2":{"field":"t2"},"y":{"field":"p1","type":"quantitative","title":null},"y2":{"field":"p2"}}},
{"data":{"name":"labBlack"},"mark":{"type":"text","align":"right","baseline":"alphabetic","dy":-6,"fontSize":10,"color":"#131722"},
 "encoding":{"x":{"field":"t","type":"temporal","title":null},"y":{"field":"p","type":"quantitative","title":null},"text":{"field":"s"}}},
{"data":{"name":"labRed"},"mark":{"type":"text","align":"right","baseline":"alphabetic","dy":-6,"fontSize":10,"color":"#ef5f6b"},
 "encoding":{"x":{"field":"t","type":"temporal","title":null},"y":{"field":"p","type":"quantitative","title":null},"text":{"field":"s"}}},
{"data":{"name":"tags"},"mark":{"type":"rect","fill":"#22b7cc","cornerRadius":1},
 "encoding":{"x":{"field":"t1","type":"temporal","title":null},"x2":{"field":"t2"},"y":{"field":"p1","type":"quantitative","title":null},"y2":{"field":"p2"}}},
{"data":{"name":"tagText"},"mark":{"type":"text","align":"left","baseline":"middle","fontSize":10,"color":"#0e2a47"},
 "encoding":{"x":{"field":"t","type":"temporal","title":null},"y":{"field":"p","type":"quantitative","title":null},"text":{"field":"s"}}},
{"data":{"name":"usdtBox"},"mark":{"type":"rect","fill":"#ffffff","stroke":"#e0e3eb","strokeWidth":1,"cornerRadius":3},
 "encoding":{"x":{"field":"t1","type":"temporal","title":null},"x2":{"field":"t2"},"y":{"field":"p1","type":"quantitative","title":null},"y2":{"field":"p2"}}},
{"data":{"name":"usdtText"},"mark":{"type":"text","align":"center","baseline":"middle","fontSize":10,"color":"#2a2e39"},
 "encoding":{"x":{"field":"t","type":"temporal","title":null},"y":{"field":"p","type":"quantitative","title":null},"text":{"field":"s"}}},
{"data":{"name":"header"},"mark":{"type":"text","align":"left","baseline":"middle","fontSize":10,"color":"#131722"},
 "encoding":{"x":{"field":"t","type":"temporal","title":null},"y":{"field":"p","type":"quantitative","title":null},"text":{"field":"s"}}},
{"data":{"name":"footer"},"mark":{"type":"text","align":"left","baseline":"middle","fontSize":11,"color":"#131722"},
 "encoding":{"x":{"field":"t","type":"temporal","title":null},"y":{"field":"p","type":"quantitative","title":null},"text":{"field":"s"}}},
{"data":{"name":"logo"},"mark":{"type":"text","align":"left","baseline":"middle","fontSize":12,"fontWeight":900,"color":"#131722"},
 "encoding":{"x":{"field":"t","type":"temporal","title":null},"y":{"field":"p","type":"quantitative","title":null},"text":{"field":"s"}}}
]
}
